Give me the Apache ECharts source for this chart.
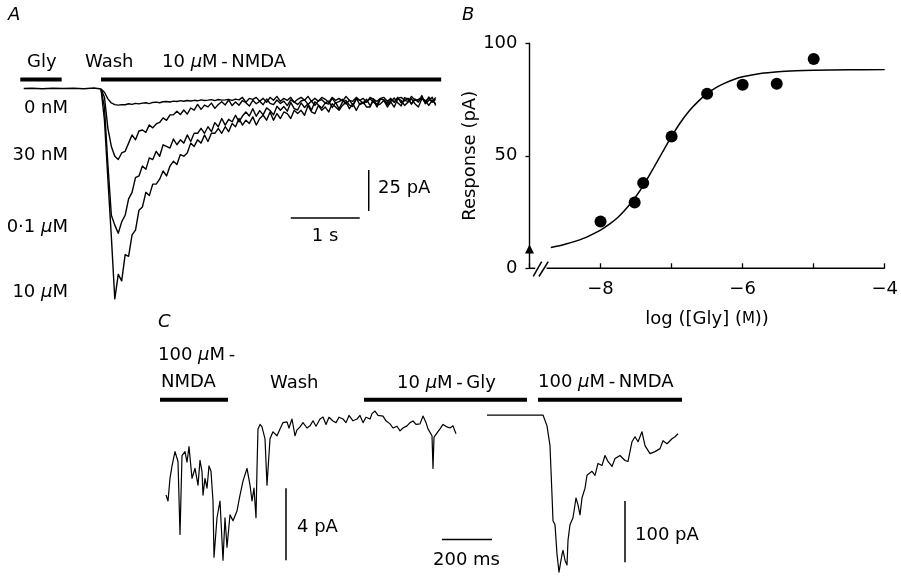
<!DOCTYPE html>
<html><head><meta charset="utf-8">
<script src="https://cdn.jsdelivr.net/npm/echarts@6/dist/echarts.min.js"></script>
<style>html,body{margin:0;padding:0;background:#fff}#c{width:901px;height:577px}</style>
</head><body><div id="c"></div>
<script>
// ---------------- Panel A data (time in s, current in pA) ----------------
const dtA = 0.05; // sample interval of traces (s)
const preA_t = [-1.12, -1.0, -0.85, -0.7, -0.55, -0.4, -0.25, -0.1, 0];
const preA_i = [0.3, 0.5, 0.2, 0.4, 0.3, 0.5, 0.2, 0.6, 0];
const i0nM = [0, -2, -6, -8.5, -9.5, -9.8, -9.5, -9.6, -9, -9.4,
 -8.8, -9.1, -8.6, -8.4, -8.9, -8.2, -8, -8.4, -7.8, -7.6,
 -7.9, -7.4, -7.6, -7.1, -7.5, -7, -7.3, -6.9, -7.2, -6.6,
 -7, -6.8, -6.5, -7.1, -6.4, -6.8, -6.6, -6.3, -6.9, -6.2, -6.6,
 -5.1, -8.1, -5.7, -6.3, -5.1, -7.5, -5.7, -8.1, -5.1, -6.9,
 -4.5, -7.5, -5.7, -6.9, -5.1, -8.1, -6.3, -5.1, -6.9, -4.5,
 -7.5, -5.7, -7.5, -5.1, -6.3, -8.1, -5.1, -6.9, -5.7, -7.5,
 -4.5, -6.9, -7.5, -5.1, -6.9, -5.7, -8.1, -5.1, -6.3, -7.5,
 -5.7, -5.1, -7.5, -5.7, -8.1, -5.7, -5.1, -6.9, -7.5, -4.5,
 -6.9, -6.3, -5.1, -7.5, -5.7, -8.1, -5.1];
const i30nM = [0, -5, -24, -35, -41, -43, -39, -38, -33, -28,
 -31, -25.6, -25, -26.4, -21.9, -23.7, -21.3, -20.4, -17.6, -19.1,
 -15.8, -15.7, -13.6, -15.6, -12.8, -15.3, -11.6, -12.9, -9.4, -12.4,
 -9.8, -10.9, -8.6, -11.8, -9.5, -7.8, -9.7, -6.7, -10.1, -7.9,
 -9.9, -7, -8.4, -10.4, -6.9, -9, -7.5, -9.6, -6.1, -8.8,
 -9.5, -6.7, -8.8, -7.4, -10.1, -6.6, -8, -9.4, -7.3, -6.6,
 -9.4, -7.3, -10, -7.2, -6.5, -8.6, -9.2, -5.7, -8.5, -7.7,
 -6.3, -9.1, -6.9, -9.7, -6.2, -6.8, -8.9, -7.5, -6, -8.1,
 -9.5, -5.9, -6.6, -8.7, -6.5, -7.9, -5.1, -8.5, -7.1, -5.7,
 -9.2, -6.3, -7.7, -5.6, -8.4, -4.9, -7.7, -6.3];
const i01uM = [0, -11, -46, -77, -83, -88, -81, -77, -67, -63,
 -54, -53, -47, -49, -42, -43, -38, -41, -34, -35,
 -36, -30.5, -34, -31, -33, -28, -32, -27, -27, -24,
 -27, -23, -26, -20.5, -23, -18, -22, -18.5, -20, -16,
 -20, -16.5, -14, -16.5, -12, -16.6, -13.2, -15.8, -11.5, -13.1,
 -15.8, -10.5, -13, -10.7, -13.5, -8.2, -12, -12.8, -8.5, -11.3,
 -9, -12.9, -7.8, -9.7, -11.6, -8.5, -7.4, -11.3, -8.2, -12.1,
 -8, -6.9, -9.8, -10.7, -5.6, -9.5, -8.4, -6.3, -10.2, -7.1,
 -11, -5.9, -6.8, -9.7, -7.6, -5.5, -8.4, -10.3, -5.2, -6.2,
 -9.1, -6.1, -8, -4, -9, -7, -5, -10];
const i10uM = [0, -19, -55, -90, -128, -113, -117, -101, -102, -89,
 -86, -74, -72, -63, -65, -58, -58, -55, -50, -53,
 -47, -44, -46, -40, -41, -39, -33, -35, -31, -33,
 -28, -32, -27, -27, -24, -27, -23, -26, -21, -23,
 -18, -22, -19, -21, -17, -22, -18, -16, -19, -14,
 -19, -15, -18, -14, -15, -18, -13, -15, -13, -16,
 -10, -14, -15, -10, -13, -11, -14, -9, -11, -13,
 -10, -8, -12, -9, -13, -9, -8, -11, -11, -6,
 -10, -9, -7, -11, -8, -11, -6, -7, -10, -8,
 -6, -9, -11, -6, -7, -10, -7, -9];
const appA = [{ label: 'Gly', t0: -1.17, t1: -0.57 }, { label: '10 μM-NMDA', t0: 0, t1: 4.93 }];
const scaleA_pA = 25, scaleA_s = 1;

// ---------------- Panel B data ----------------
const logGly = [-8, -7.52, -7.4, -7, -6.5, -6, -5.52, -5];
const respB = [20.8, 29.2, 37.9, 58.6, 77.6, 81.6, 82, 93];
const fitX = [-8.7, -8.5, -8.25, -8, -7.875, -7.75, -7.625, -7.5, -7.375, -7.25, -7.125, -7, -6.875, -6.75, -6.625, -6.5, -6.375, -6.25, -6.125, -6, -5.75, -5.5, -5.25, -5, -4.5, -4];
const fitY = [9.2, 10.7, 13.2, 17.0, 19.6, 22.8, 27.0, 32.0, 38.0, 44.8, 51.8, 58.6, 64.8, 70.0, 74.2, 77.6, 80.3, 82.3, 83.9, 85.1, 86.6, 87.4, 87.8, 88.0, 88.2, 88.3];
const zeroGlyResp = 8.6;
const xTicksB = [-8, -6, -4];

// ---------------- Panel C data (time in ms, current in pA) ----------------
const tC1 = [24, 32, 40, 48, 60, 72, 80, 88, 100, 108, 116, 128, 140, 152, 160, 168, 172, 180, 188, 196,
 204, 212, 216, 228, 240, 252, 260, 268, 280, 292, 308, 320, 332, 348, 360, 368, 376, 384, 388, 392,
 400, 408, 420, 428, 440, 452, 468, 480, 492, 508, 516, 528, 540, 548, 560, 572, 588, 600, 612, 624,
 640, 652, 664, 676, 692, 704, 716, 732, 744, 756, 772, 788, 800, 812, 824, 840, 848, 860, 872, 892,
 904, 920, 932, 948, 960, 972, 988, 1000, 1012, 1024, 1040, 1052, 1064, 1072, 1080, 1088, 1092, 1096, 1100, 1112,
 1120, 1132, 1148, 1160, 1172, 1184];
const iC1 = [-4.22, -4.55, -3.29, -2.6, -1.81, -2.36, -6.41, -2.03, -1.81, -2.4, -1.53, -3.29, -2.74, -3.67, -2.3, -2.90, -4.22, -3.3, -3.84, -2.6,
 -2.90, -4.55, -7.67, -5.48, -4.55, -7.84, -5.48, -7.12, -5.32, -5.64, -5.10, -4.22, -3.45, -2.74, -3.67, -4.55, -3.84, -5.48, -2.74, -0.55,
 -0.3, -0.44, -1.10, -3.67, -1.10, -0.71, -0.93, -0.55, -0.2, -0.16, -0.5, 0, -0.93, -0.6, -0.44, -0.2, -0.5, -0.38, -0.1, -0.4,
 0.0, 0.11, -0.3, 0.1, -0.11, -0.2, 0.1, 0, -0.2, 0.2, -0.1, 0, 0.2, -0.2, 0.1, 0, 0.3, 0.44, 0.2, 0.16,
 -0.1, -0.27, -0.5, -0.4, -0.66, -0.5, -0.38, -0.2, -0.11, -0.3, -0.27, 0.16, -0.2, -0.55, -0.6, -0.93, -2.74, -1.0, -0.93, -0.7,
 -0.55, -0.3, -0.44, -0.5, -0.38, -0.82];
const tC2 = [1308, 1532, 1548, 1560, 1568, 1572, 1580, 1588, 1596, 1608, 1612, 1620, 1628, 1632, 1640, 1652, 1664, 1672, 1680, 1688,
 1700, 1708, 1728, 1740, 1752, 1768, 1780, 1792, 1808, 1820, 1840, 1860, 1872, 1888, 1900, 1912, 1928, 1940, 1960, 1980,
 2000, 2012, 2028, 2048, 2060, 2072];
const iC2 = [0, 0, -17.7, -50, -130.6, -172.6, -179, -227.4, -256.5, -227.4, -221, -237, -245, -204.8, -179, -167.7, -135.5, -146.8, -163, -135.5,
 -119.4, -98.4, -91.9, -98.4, -79, -82.3, -66.1, -75.8, -83.9, -71, -66.1, -74.2, -75.8, -43.5, -35.5, -43.5, -27.4, -50, -62.9, -59.7,
 -54.8, -41.9, -46.8, -38.7, -35.5, -30.6];
const appC = [{ label: '100 μM-NMDA', t0: 0, t1: 272 }, { label: '10 μM-Gly', t0: 816, t1: 1468 }, { label: '100 μM-NMDA', t0: 1512, t1: 2088 }];
const scaleC_small_pA = 4, scaleC_big_pA = 100, scaleC_ms = 200;

// ---------------- layout / style constants ----------------
const FF = 'DejaVu Sans';
const FS = 18;
const BAR_LVL_A = 5.8, BAR_LVL_C = 1.07;
const SB_A = { t: 3.88, top: -49.4, hT0: 2.75, hLvl: -78.7 };
const SB_C = { t4: 504, top4: -3.84, h0: 1128, hLvl: -6.68, t100: 1860, top100: -140.3 };

const chart = echarts.init(document.getElementById('c'), null, { renderer: 'canvas' });

function ln(xi, yi, data, w, extra) {
  return Object.assign({ type: 'line', xAxisIndex: xi, yAxisIndex: yi, data: data, symbol: 'none', silent: true,
    animation: false, clip: false, lineStyle: { color: '#000', width: w, cap: 'butt', join: 'round' } }, extra || {});
}
const zip = (a, b) => a.map((v, k) => [v, b[k]]);
const traceA = arr => arr.map((v, k) => [k * dtA, v]);

const series = [];
// Panel A
series.push(ln(0, 0, zip(preA_t, preA_i), 1.5));
[i0nM, i30nM, i01uM, i10uM].forEach(a => series.push(ln(0, 0, traceA(a), 1.4)));
appA.forEach(b => series.push(ln(0, 0, [[b.t0, BAR_LVL_A], [b.t1, BAR_LVL_A]], 4)));
series.push(ln(0, 0, [[SB_A.t, SB_A.top], [SB_A.t, SB_A.top - scaleA_pA]], 1.5));
series.push(ln(0, 0, [[SB_A.hT0, SB_A.hLvl], [SB_A.hT0 + scaleA_s, SB_A.hLvl]], 1.5));
// Panel B
series.push(ln(1, 1, zip(fitX, fitY), 1.5, { smooth: 0.3 }));
series.push({ type: 'scatter', xAxisIndex: 1, yAxisIndex: 1, data: zip(logGly, respB), symbol: 'circle', symbolSize: 12,
  itemStyle: { color: '#000', opacity: 1 }, silent: true, animation: false });
series.push({ type: 'scatter', xAxisIndex: 1, yAxisIndex: 1, data: [[-9, zeroGlyResp]], symbol: 'triangle', symbolSize: [9, 9],
  itemStyle: { color: '#000', opacity: 1 }, silent: true, animation: false, clip: false });
series.push(ln(1, 1, [[-8.76, 0], [-4, 0]], 1.5));
series.push(ln(1, 1, [[-9, 0], [-8.92, 0]], 1.5));
series.push(ln(1, 1, [[-8.947, -3.64], [-8.829, 3.0]], 1.5));
series.push(ln(1, 1, [[-8.867, -3.64], [-8.736, 3.0]], 1.5));
// Panel C
series.push(ln(2, 2, zip(tC1, iC1), 1.2));
series.push(ln(2, 3, zip(tC2, iC2), 1.2));
appC.forEach(b => series.push(ln(2, 2, [[b.t0, BAR_LVL_C], [b.t1, BAR_LVL_C]], 4)));
series.push(ln(2, 2, [[SB_C.t4, SB_C.top4], [SB_C.t4, SB_C.top4 - scaleC_small_pA]], 1.5));
series.push(ln(2, 2, [[SB_C.h0, SB_C.hLvl], [SB_C.h0 + scaleC_ms, SB_C.hLvl]], 1.5));
series.push(ln(2, 3, [[SB_C.t100, SB_C.top100], [SB_C.t100, SB_C.top100 - scaleC_big_pA]], 1.5));

const it = { fontStyle: 'italic', fontFamily: FF, fontSize: FS, fill: '#000' };
function txt(x, y, text, align, opts) {
  opts = opts || {};
  return { type: 'text', x: x, y: y, silent: true,
    style: { text: text, fill: '#000', fontFamily: FF, fontSize: opts.size || FS, fontStyle: opts.italic ? 'italic' : 'normal',
      align: align || 'left', verticalAlign: 'middle', rich: { i: it } } };
}
const mu = s => s.replace('μ', '{i|μ}');

const graphic = [
  txt(8, 15, 'A', 'left', { italic: true }),
  txt(462, 15, 'B', 'left', { italic: true }),
  txt(158, 322, 'C', 'left', { italic: true }),
  // Panel A labels
  txt(27, 62, appA[0].label, 'left'),
  txt(85, 62, 'Wash', 'left'),
  txt(162, 62, mu('10 μM\u2009-\u2009NMDA'), 'left'),
  txt(68, 108, '0 nM', 'right'),
  txt(68, 155, '30 nM', 'right'),
  txt(68, 227, mu('0·1 μM'), 'right'),
  txt(68, 292, mu('10 μM'), 'right'),
  txt(378, 188, scaleA_pA + ' pA', 'left'),
  txt(325, 236, scaleA_s + ' s', 'center'),
  // Panel C labels
  txt(158, 355, mu('100 μM\u2009-'), 'left'),
  txt(161, 382, 'NMDA', 'left'),
  txt(270, 383, 'Wash', 'left'),
  txt(397, 383, mu('10 μM\u2009-\u2009Gly'), 'left'),
  txt(538, 382, mu('100 μM\u2009-\u2009NMDA'), 'left'),
  txt(297, 527, scaleC_small_pA + ' pA', 'left'),
  txt(433, 560, scaleC_ms + ' ms', 'left'),
  txt(635, 535, scaleC_big_pA + ' pA', 'left')
];

const hidden = { show: false };
const option = {
  backgroundColor: '#fff',
  animation: false,
  grid: [
    { left: 18.2, top: 56.2, width: 427.8, height: 254.2 },
    { left: 529.5, top: 43.3, width: 356.5, height: 225 },
    { left: 155, top: 340, width: 550, height: 240 }
  ],
  xAxis: [
    { gridIndex: 0, type: 'value', min: -1.2, max: 5.0, show: false },
    { gridIndex: 1, type: 'value', min: -9, max: -4, interval: 1,
      axisLine: { show: false },
      axisTick: { show: true, inside: true, length: 5, lineStyle: { color: '#000', width: 1.3 } },
      axisLabel: { show: true, margin: 12, color: '#000', fontFamily: FF, fontSize: FS, showMinLabel: true, showMaxLabel: true,
        formatter: v => xTicksB.indexOf(v) >= 0 ? '\u2212' + Math.abs(v) : '' },
      splitLine: hidden,
      name: 'log ([Gly] ({s|M}))', nameLocation: 'middle', nameGap: 42,
      nameTextStyle: { color: '#000', fontFamily: FF, fontSize: FS, rich: { s: { fontFamily: FF, fontSize: 15, color: '#000' } } } },
    { gridIndex: 2, type: 'value', min: -20, max: 2180, show: false }
  ],
  yAxis: [
    { gridIndex: 0, type: 'value', min: -135, max: 20, show: false },
    { gridIndex: 1, type: 'value', min: 0, max: 100, interval: 50,
      axisLine: { show: true, onZero: false, lineStyle: { color: '#000', width: 1.4 } },
      axisTick: { show: true, length: 4, lineStyle: { color: '#000', width: 1.3 } },
      axisLabel: { margin: 12, color: '#000', fontFamily: FF, fontSize: FS },
      splitLine: hidden,
      name: 'Response (pA)', nameLocation: 'middle', nameGap: 50, nameRotate: 90,
      nameTextStyle: { color: '#000', fontFamily: FF, fontSize: FS } },
    { gridIndex: 2, type: 'value', min: -8.767, max: 4.384, show: false },
    { gridIndex: 2, type: 'value', min: -264.5, max: 122.6, show: false }
  ],
  graphic: graphic,
  series: series
};
chart.setOption(option);
</script></body></html>
